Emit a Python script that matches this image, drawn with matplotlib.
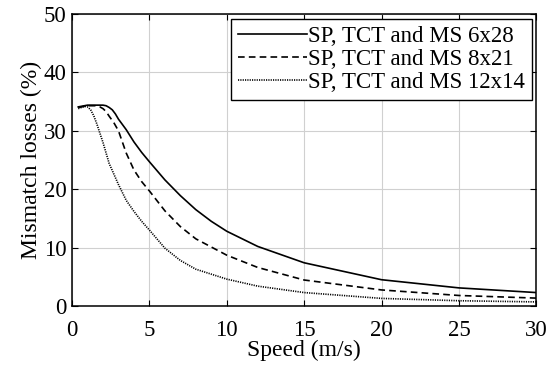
import matplotlib
matplotlib.use("Agg")
import matplotlib.pyplot as plt

plt.rcParams["font.family"] = ["Liberation Serif", "DejaVu Serif"]

speed_6x28 = [0.4, 1, 1.5, 2, 2.2, 2.4, 2.6, 2.8, 3, 3.25, 3.5, 4, 4.5, 5, 6, 7, 8, 9, 10, 12,
              15, 20, 25, 30]
loss_6x28 = [34.1, 34.4, 34.4, 34.4, 34.3, 34.0, 33.6, 32.9, 32.0, 31.1, 30.2, 28.1, 26.3, 24.7,
             21.6, 18.9, 16.5, 14.5, 12.8, 10.2, 7.4, 4.5, 3.1, 2.3]

speed_8x21 = [0.4, 1, 1.5, 1.8, 2, 2.2, 2.4, 2.7, 3, 3.5, 4, 4.5, 5, 6, 7, 8, 10, 12, 15, 20,
              25, 30]
loss_8x21 = [34.0, 34.3, 34.3, 34.1, 33.8, 33.3, 32.5, 31.4, 30.0, 26.2, 23.3, 21.3, 19.7,
             16.3, 13.6, 11.5, 8.7, 6.6, 4.45, 2.75, 1.8, 1.35]

speed_12x14 = [0.4, 0.8, 1.0, 1.2, 1.4, 1.6, 1.8, 2, 2.4, 3, 3.5, 4, 4.5, 5, 6, 7, 8, 10, 12,
               15, 20, 25, 30]
loss_12x14 = [33.8, 34.2, 34.1, 33.6, 32.6, 31.2, 29.6, 28.0, 24.4, 20.8, 18.1, 16.2, 14.5,
              13.0, 9.9, 7.8, 6.3, 4.6, 3.4, 2.3, 1.3, 0.9, 0.7]

labels = ["SP, TCT and MS 6x28", "SP, TCT and MS 8x21", "SP, TCT and MS 12x14"]
x_ticks = [0, 5, 10, 15, 20, 25, 30]
y_ticks = [0, 10, 20, 30, 40, 50]

fig = plt.figure(figsize=(5.5, 3.7), dpi=100)
ax = fig.add_axes([0.131, 0.173, 0.844, 0.789])

ax.plot(speed_6x28, loss_6x28, color="black", linewidth=1.2, linestyle="-", label=labels[0])
ax.plot(speed_8x21, loss_8x21, color="black", linewidth=1.2, linestyle=(0, (4, 2.5)), label=labels[1])
ax.plot(speed_12x14, loss_12x14, color="black", linewidth=1.2, linestyle=(0, (0.7, 0.7)), label=labels[2])

ax.set_xlim(0, 30)
ax.set_ylim(0, 50)
ax.set_xticks(x_ticks)
ax.set_yticks(y_ticks)
ax.grid(True, color="#d0d0d0", linewidth=0.8)
ax.set_axisbelow(True)
ax.tick_params(direction="in", top=True, right=True, length=4, width=0.8, labelsize=16.5, pad=4)
ax.tick_params(axis="x", pad=10)
for s in ax.spines.values():
    s.set_linewidth(1.1)

ax.set_xlabel("Speed (m/s)", fontsize=17, labelpad=-1)
ax.set_ylabel("Mismatch losses (%)", fontsize=17, labelpad=1)

leg = ax.legend(loc="upper right", fontsize=16.5, frameon=True, fancybox=False, framealpha=1,
                edgecolor="black", borderaxespad=0.2, handlelength=3.0, handletextpad=0.05,
                labelspacing=0.1, borderpad=0.3)
leg.get_frame().set_linewidth(1.0)

fig.savefig("out.png", dpi=100)
